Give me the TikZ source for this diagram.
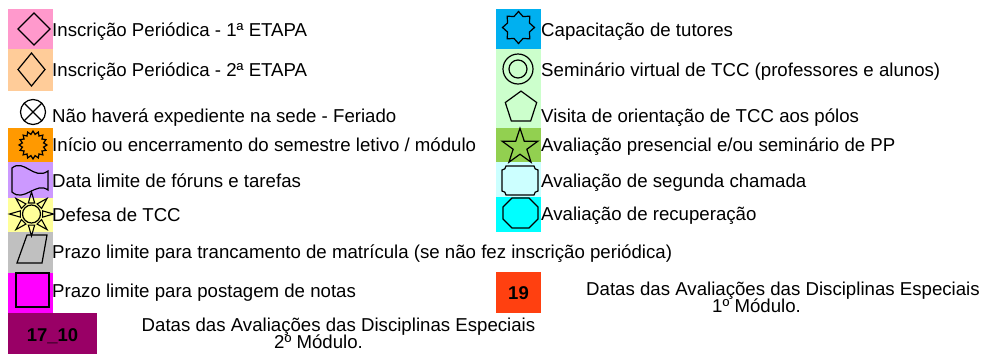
\documentclass[tikz,border=0pt]{standalone}
\usepackage{fontspec}
\setmainfont{Liberation Sans}
\usetikzlibrary{shapes.geometric}
\definecolor{pinkA}{HTML}{FF99CC}
\definecolor{peachA}{HTML}{FFCC99}
\definecolor{orangeA}{HTML}{FF9900}
\definecolor{lilacA}{HTML}{CC99FF}
\definecolor{yellowA}{HTML}{FFFF99}
\definecolor{greyA}{HTML}{C0C0C0}
\definecolor{magentaA}{HTML}{FF00FF}
\definecolor{maroonA}{HTML}{990066}
\definecolor{blueA}{HTML}{00B0F0}
\definecolor{mintA}{HTML}{CCFFCC}
\definecolor{greenA}{HTML}{92D050}
\definecolor{iceA}{HTML}{CCFFFF}
\definecolor{cyanA}{HTML}{00FFFF}
\definecolor{redA}{HTML}{FF4010}
\begin{document}
\begin{tikzpicture}[x=1pt,y=-1pt]
\tikzset{lbl/.style={anchor=base west,inner sep=0pt,font=\fontsize{18.65}{18}\selectfont},
num/.style={anchor=base,inner sep=0pt,font=\fontsize{18.5}{18}\selectfont\bfseries},
sym/.style={draw=black,line width=1.2pt,inner sep=0pt,outer sep=0pt}}
\useasboundingbox (0,0) rectangle (983,354);

\fill[pinkA] (8,9) rectangle (53,49);
\fill[peachA] (8,49) rectangle (53,91);
\fill[orangeA] (8,128) rectangle (53,162);
\fill[lilacA] (8,162) rectangle (53,198);
\fill[yellowA] (8,198) rectangle (53,232);
\fill[greyA] (8,232) rectangle (53,273);
\fill[magentaA] (8,273) rectangle (53,313);
\fill[maroonA] (8,313) rectangle (97,354);
\fill[blueA] (496,9) rectangle (541,49);
\fill[mintA] (496,49) rectangle (541,128);
\fill[greenA] (496,128) rectangle (541,162);
\fill[iceA] (496,162) rectangle (541,197);
\fill[cyanA] (496,197) rectangle (541,232);
\fill[redA] (496,272) rectangle (541,313);

\node[sym,diamond,minimum width=32pt,minimum height=32pt] (etapa1) at (34,29) {};
\node[sym,diamond,minimum width=27pt,minimum height=33pt] (etapa2) at (31.5,69.5) {};
\node[sym,circle,minimum size=25pt] (feriado) at (33,112) {};
\draw[line width=1.2pt] (feriado.north east) -- (feriado.south west) (feriado.north west) -- (feriado.south east);
\node[sym,star,star points=16,star point ratio=1.3,minimum size=28pt] (semestre) at (33,145) {};
\draw[sym] (12,168) .. controls (24,158) and (34,181) .. (48,171) -- (48,190) .. controls (36,181) and (24,203) .. (12,192) -- cycle;
\node[sym,circle,minimum size=18pt] (sol) at (31.5,214) {};
\foreach \a in {0,45,...,315}
  \draw[line width=1.1pt,shift={(sol.center)}] (\a-16:11.5) -- (\a:22) -- (\a+16:11.5) -- cycle;
\draw[sym] (27,235) -- (47,235) -- (42,263) -- (17,263) -- cycle;
\node[sym,rectangle,minimum width=33pt,minimum height=34pt] (notas) at (32.5,290) {};

\node[sym,star,star points=8,star point ratio=1.35,minimum size=32pt] (tutores) at (518.5,27.5) {};
\node[sym,circle,minimum size=30pt] (tcc) at (518,69) {};
\node[sym,circle,minimum size=18pt] (tcc2) at (tcc) {};
\node[sym,regular polygon,regular polygon sides=5,minimum size=33pt] (polos) at (521,107.6) {};
\node[sym,star,star points=5,star point ratio=2.6,minimum size=37.6pt] (pp) at (520,147) {};
\draw[sym] (506,166) -- (534,166) .. controls (534,168.2) and (535.8,170) .. (538,170) -- (538,191)
  .. controls (535.8,191) and (534,192.8) .. (534,195) -- (506,195) .. controls (506,192.8) and (504.2,191) .. (502,191)
  -- (502,170) .. controls (504.2,170) and (506,168.2) .. (506,166) -- cycle;
\draw[sym] (512,198) -- (529,198) -- (538,207) -- (538,219) -- (529,228) -- (512,228) -- (503,219) -- (503,207) -- cycle;

\node[lbl] (l1) at (52,36) {Inscrição Periódica - 1ª ETAPA};
\node[lbl] (l2) at (52,76) {Inscrição Periódica - 2ª ETAPA};
\node[lbl] (l3) at (52,122) {Não haverá expediente na sede - Feriado};
\node[lbl] (l4) at (52,151) {Início ou encerramento do semestre letivo / módulo};
\node[lbl] (l5) at (52,187) {Data limite de fóruns e tarefas};
\node[lbl] (l6) at (52,221) {Defesa de TCC};
\node[lbl] (l7) at (52,258) {Prazo limite para trancamento de matrícula (se não fez inscrição periódica)};
\node[lbl] (l8) at (52,297) {Prazo limite para postagem de notas};
\node[lbl] (r1) at (541,36) {Capacitação de tutores};
\node[lbl] (r2) at (541,76) {Seminário virtual de TCC (professores e alunos)};
\node[lbl] (r3) at (541,122) {Visita de orientação de TCC aos pólos};
\node[lbl] (r4) at (541,151) {Avaliação presencial e/ou seminário de PP};
\node[lbl] (r5) at (541,187) {Avaliação de segunda chamada};
\node[lbl] (r6) at (541,220) {Avaliação de recuperação};

\node[num] (mod1) at (518.5,299) {19};
\node[num] (mod2) at (52.5,341) {17\_10};
\node[lbl] (datas1) at (586,295) {Datas das Avaliações das Disciplinas Especiais};
\node[lbl] (datas1b) at (712,312.5) {1º Módulo.};
\node[lbl] (datas2) at (141.5,331) {Datas das Avaliações das Disciplinas Especiais};
\node[lbl] (datas2b) at (274,348) {2º Módulo.};

\end{tikzpicture}
\end{document}
